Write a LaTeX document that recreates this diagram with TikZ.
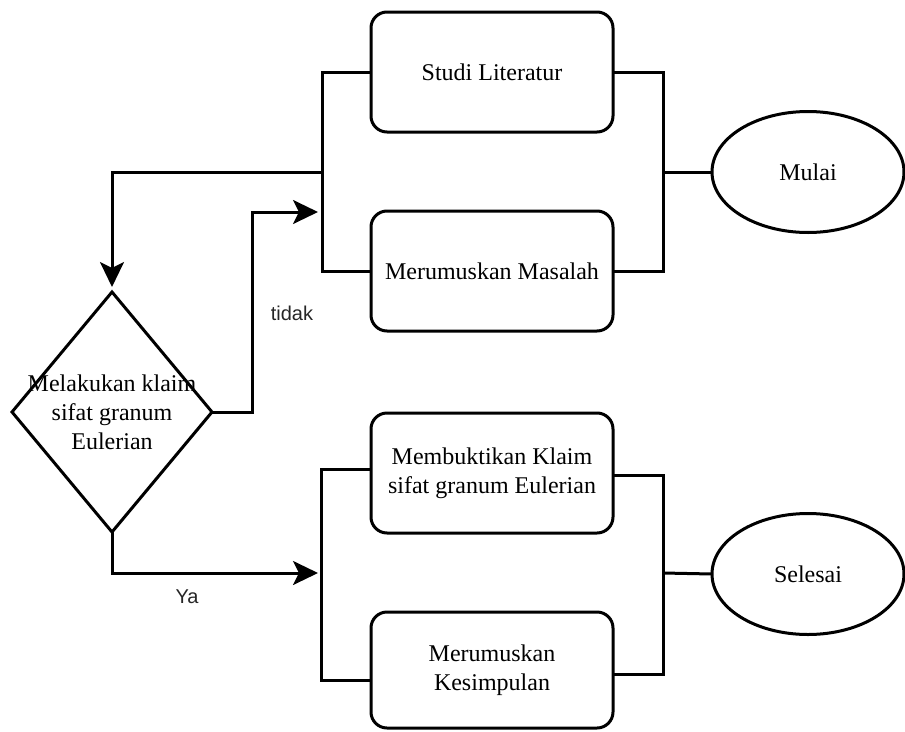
\documentclass[tikz,border=0pt]{standalone}
\usepackage{fontspec}
\setmainfont{Liberation Serif}
\newfontfamily\ketfont{Liberation Sans}
\usetikzlibrary{positioning,shapes.geometric,arrows.meta}

\begin{document}
\begin{tikzpicture}[x=1pt, y=-1pt, line width=3pt,
	proses/.style={draw, rounded corners=16pt, minimum width=242pt, minimum height=120pt, inner sep=0pt, outer sep=0pt, align=center, font=\fontsize{24}{29}\selectfont},
	terminal/.style={draw, ellipse, minimum width=192pt, minimum height=121pt, inner sep=0pt, outer sep=0pt, font=\fontsize{24}{29}\selectfont},
	keputusan/.style={draw, diamond, minimum width=200pt, minimum height=240pt, inner sep=0pt, outer sep=0pt},
	panah/.style={-{Stealth[length=25pt, width=24pt, inset=6pt]}},
	ket/.style={font=\ketfont\fontsize{20}{24}\selectfont, text=black!85}]
	\useasboundingbox (0,0) rectangle (905,731);
	
	% 1. 上半部分：两个并行步骤 + 开始
	\node [proses] (studi) at (492,72) {Studi Literatur};
	\node [proses, below=79pt of studi] (masalah) {Merumuskan Masalah};
	\node [terminal] (mulai) at (808,172) {Mulai};
	
	% 2. 判断框（文字故意超出菱形边缘，同原图）
	\node [keputusan, label={[align=center, font=\fontsize{24}{29}\selectfont]center:Melakukan klaim\\sifat granum\\Eulerian}] (klaim) at (112,412) {};
	
	% 3. 下半部分：两个并行步骤 + 结束
	\node [proses] (bukti) at (492,473) {Membuktikan Klaim\\sifat granum Eulerian};
	\node [proses, below=79pt of bukti, minimum height=116pt] (simpul) {Merumuskan\\Kesimpulan};
	\node [terminal] (selesai) at (808,574) {Selesai};
	
	% 括号的汇合点
	\coordinate (kiriAtas) at (322,172);
	\coordinate (kananAtas) at (663,172);
	\coordinate (masukAtas) at (318,212);
	\coordinate (kiriBawah) at (321,573);
	\coordinate (kananBawah) at (663,573);
	\coordinate (masukBawah) at (318,573);
	
	% 4. 连线
	\draw (studi.west) -| (kiriAtas) |- (masalah.west);
	\draw (studi.east) -| (kananAtas) |- (masalah.east);
	\draw (mulai.west) -- (kananAtas);
	\draw [panah, shorten >=5pt] (kiriAtas) -| (klaim.north);
	
	% 否 -> 回到上面
	\draw [panah] (klaim.east) -- ++(40,0) |- (masukAtas);
	\node [ket] (tidak) at (292,313) {tidak};
	
	% 是 -> 往下走
	\draw [panah] (klaim.south) |- (masukBawah);
	\node [ket] (ya) at (187,597) {Ya};
	
	\draw ([yshift=4pt]bukti.west) -| (kiriBawah) |- ([yshift=-10pt]simpul.west);
	\draw ([yshift=-2pt]bukti.east) -| (kananBawah) |- ([yshift=-4pt]simpul.east);
	\draw (selesai.west) -- (kananBawah);
\end{tikzpicture}
\end{document}
